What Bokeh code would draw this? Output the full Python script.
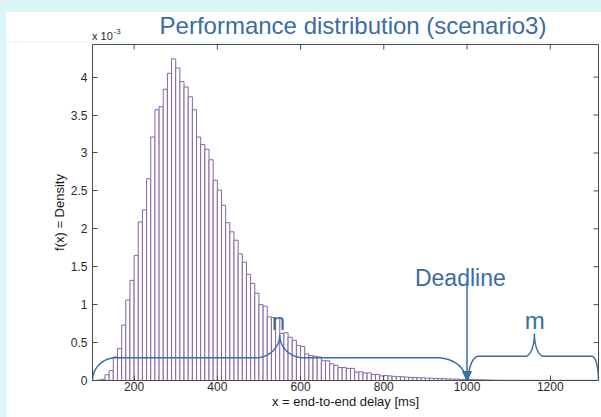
import numpy as np
from bokeh.plotting import figure
from bokeh.models import Range1d, FixedTicker, Label, Arrow, NormalHead, Div
from bokeh.layouts import column
from bokeh.embed import file_html
from bokeh.resources import INLINE

# ---- data (density in units of 1e-3, 10 ms bins, left edges from 110 ms) ----
bin_width = 10
bin_start = 110
density = [
    0.005, 0.015, 0.075, 0.13, 0.31, 0.42, 0.73, 1.06, 1.32,          # 110-190
    1.65, 2.09, 2.25, 2.66, 3.21, 3.57, 3.61, 3.84, 4.05, 4.24,       # 200-290
    4.12, 3.94, 3.87, 3.74, 3.57, 3.21, 3.11, 3.05, 2.91, 2.64,       # 300-390
    2.51, 2.31, 2.08, 1.96, 1.85, 1.67, 1.56, 1.40, 1.28, 1.15,       # 400-490
    1.00, 0.98, 0.84, 0.83, 0.82, 0.62, 0.63, 0.57, 0.53, 0.46,       # 500-590
    0.45, 0.35, 0.33, 0.32, 0.31, 0.26, 0.26, 0.22, 0.20, 0.17,       # 600-690
    0.17, 0.16, 0.16, 0.11, 0.115, 0.10, 0.10, 0.08, 0.08, 0.06,      # 700-790
    0.065, 0.06, 0.055, 0.05, 0.05, 0.045, 0.04, 0.04, 0.035, 0.035,  # 800-890
    0.03, 0.03, 0.028, 0.025, 0.025, 0.02, 0.02, 0.018, 0.015, 0.015, # 900-990
    0.012, 0.012, 0.01, 0.01, 0.008, 0.006, 0.004, 0.003, 0.003, 0.003, # 1000-1090
    0.002, 0.002, 0.003, 0.002, 0.002, 0.002, 0.002, 0.002, 0.002, 0.002, # 1100-1190
    0.002, 0.002, 0.002, 0.002, 0.002, 0.002, 0.002, 0.002, 0.002, 0.002, # 1200-1290
    0.002, 0.002,                                                      # 1300-1310
]
bin_left = [bin_start + i * bin_width for i in range(len(density))]
bin_right = [b + bin_width for b in bin_left]

x_ticks = [200, 400, 600, 800, 1000, 1200]
y_ticks = [0, 0.5, 1, 1.5, 2, 2.5, 3, 3.5, 4]
y_tick_labels = {0: "0", 0.5: "0.5", 1: "1", 1.5: "1.5", 2: "2", 2.5: "2.5",
                 3: "3", 3.5: "3.5", 4: "4"}

title_text = "Performance distribution (scenario3)"
x_label = "x = end-to-end delay [ms]"
y_label = "f(x) = Density"

deadline = 1000
# braces: (start, end, peak x, flat level, peak level, end radius L, peak radius, end radius R)
brace_n = (100, 998, 550, 0.30, 0.60, 56, 57, 70)
brace_m = (1003, 1316, 1162, 0.32, 0.62, 25, 22, 16)

FONT = "Liberation Sans"
BLUE = "#3a6ca6"
PURPLE = "#8466a3"
AXC = "#4a4a4a"
BG = "#dcf6f8"

X0, X1, Y0, Y1 = 100, 1316, 0, 4.43
FW, FH = 506, 336

p = figure(width=595, height=375, output_backend="svg", toolbar_location=None,
           title=None,
           x_range=Range1d(X0, X1), y_range=Range1d(Y0, Y1),
           min_border_left=86, min_border_right=3, min_border_top=2, min_border_bottom=37,
           background_fill_color="white", border_fill_color="white")
p.margin = (0, 0, 0, 6)
p.outline_line_color = AXC
p.xgrid.grid_line_color = None
p.ygrid.grid_line_color = None

p.quad(left=bin_left, right=bin_right, top=density, bottom=0,
       fill_color="white", line_color=PURPLE, line_width=1)

def brace_path(x0, x1, xp, h, hp, r0, rp, r1, n=40):
    t = np.linspace(0, np.pi / 2, n)
    xa = x0 + r0 - r0 * np.cos(t); ya = h * np.sin(t)
    xb = xp - rp + rp * np.sin(t); yb = hp - (hp - h) * np.cos(t)
    xc = xp + rp - rp * np.cos(t); yc = hp - (hp - h) * np.sin(t)
    xd = x1 - r1 + r1 * np.sin(t); yd = h * np.cos(t)
    return np.concatenate([xa, xb, xc, xd]), np.concatenate([ya, yb, yc, yd])

for br in (brace_n, brace_m):
    bx, by = brace_path(*br)
    p.line(bx, by, line_color=BLUE, line_width=1.5)

p.add_layout(Arrow(end=NormalHead(size=9, fill_color=BLUE, line_color=BLUE),
                   x_start=deadline, y_start=1.27, x_end=deadline, y_end=0.0,
                   line_color=BLUE, line_width=1.5))

# inward ticks on top and right edges (box style)
tick_px = 5
dx = tick_px * (X1 - X0) / FW
dy = tick_px * (Y1 - Y0) / FH
p.segment(x0=x_ticks, x1=x_ticks, y0=[Y1] * len(x_ticks), y1=[Y1 - dy] * len(x_ticks),
          line_color=AXC, line_width=1)
p.segment(x0=[X1] * len(y_ticks), x1=[X1 - dx] * len(y_ticks), y0=y_ticks, y1=y_ticks,
          line_color=AXC, line_width=1)

for ax in (p.xaxis[0], p.yaxis[0]):
    ax.major_tick_in = 5
    ax.major_tick_out = 0
    ax.minor_tick_line_color = None
    ax.axis_line_color = AXC
    ax.major_tick_line_color = AXC
    ax.major_label_text_font = FONT
    ax.major_label_text_font_size = "12px"
    ax.major_label_text_color = "#2a2a2a"
    ax.axis_label_text_font = FONT
    ax.axis_label_text_font_size = "13px"
    ax.axis_label_text_font_style = "normal"
    ax.axis_label_text_color = "#1a1a1a"

p.xaxis.ticker = FixedTicker(ticks=x_ticks)
p.yaxis.ticker = FixedTicker(ticks=y_ticks)
p.yaxis.major_label_overrides = y_tick_labels
p.xaxis.axis_label = x_label
p.yaxis.axis_label = y_label
p.xaxis.major_label_standoff = 1
p.xaxis.axis_label_standoff = 0
p.yaxis.major_label_standoff = 5
p.yaxis.axis_label_standoff = 1

# in-plot annotation texts
p.add_layout(Label(x=984, y=1.358, text="Deadline", text_align="center",
                   text_baseline="alphabetic", text_font=FONT,
                   text_font_size="23px", text_color=BLUE))
p.add_layout(Label(x=547, y=0.778, text="n", text_align="center",
                   text_baseline="alphabetic", text_font=FONT,
                   text_font_size="24px", text_color=BLUE))
p.add_layout(Label(x=1163, y=0.79, text="m", text_align="center",
                   text_baseline="alphabetic", text_font=FONT,
                   text_font_size="24px", text_color=BLUE))

# header strip: title and exponent label
def span(text, left, baseline, fs, color, extra=""):
    top = baseline - 0.8465 * fs
    return (f'<span style="position:absolute;left:{left}px;top:{top:.1f}px;'
            f'font-family:\'{FONT}\';font-size:{fs}px;line-height:{fs}px;'
            f'color:{color};white-space:nowrap;{extra}">{text}</span>')

header_html = (
    '<div style="position:relative;width:595px;height:30px;background:white;">'
    + span(title_text, 347, 22, 24, BLUE, "transform:translateX(-50%);")
    + span("x 10", 86, 28, 11, "#2a2a2a")
    + span("-3", 107.5, 23, 8, "#2a2a2a")
    + '</div>'
)
header = Div(text=header_html, width=595, height=30, margin=(12, 0, 0, 6),
             styles={"background-color": "white"})

layout = column(header, p, width=601, height=417, spacing=0,
                styles={"background-color": BG})
open("out.html", "w").write(file_html(layout, INLINE))
